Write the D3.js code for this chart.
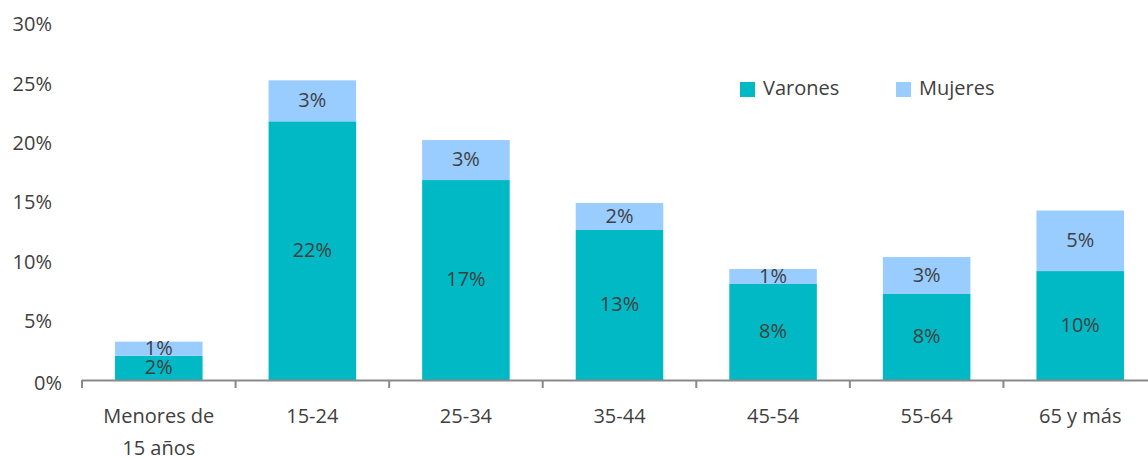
<!DOCTYPE html>
<html><head><meta charset="utf-8">
<script src="https://cdn.jsdelivr.net/npm/d3@7"></script>
<style>body{margin:0;background:#fff}svg{display:block}text{font-family:"Open Sans",sans-serif;fill:#404040}</style>
</head><body><svg id="c" width="1148" height="460"></svg>
<script>
const categories = ["Menores de\n15 años","15-24","25-34","35-44","45-54","55-64","65 y más"];
const varones = [2.05, 21.8, 16.85, 12.64, 8.09, 7.25, 9.18];
const mujeres = [1.18, 3.45, 3.37, 2.27, 1.26, 3.11, 5.1];
const varonesLabels = ["2%","22%","17%","13%","8%","8%","10%"];
const mujeresLabels = ["1%","3%","3%","2%","1%","3%","5%"];
const yTicks = [0,5,10,15,20,25,30];
const seriesNames = ["Varones","Mujeres"];
const colors = ["#00B9C5","#99CCFF"];

const svg = d3.select("#c");
const y = d3.scaleLinear().domain([0,30]).range([380,24]);
const x = d3.scaleBand().domain(categories).range([82,1157]).paddingInner(0.43).paddingOuter(0.215);
const step = x.step();

// y tick labels
svg.append("g").selectAll("text").data(yTicks).join("text")
  .attr("x", d => d===0 ? 62 : 52)
  .attr("y", d => y(d) + (d===0 ? 5 : 2))
  .attr("text-anchor","end").attr("dominant-baseline","middle")
  .attr("font-size",20).text(d => d + "%");

// bars
const rows = categories.map((c,i)=>({c, v:varones[i], m:mujeres[i], vl:varonesLabels[i], ml:mujeresLabels[i]}));
const g = svg.append("g");
g.selectAll("rect.v").data(rows).join("rect").attr("class","v")
  .attr("x",d=>x(d.c)).attr("width",x.bandwidth())
  .attr("y",d=>y(d.v)).attr("height",d=>y(0)-y(d.v)).attr("fill",colors[0]);
g.selectAll("rect.m").data(rows).join("rect").attr("class","m")
  .attr("x",d=>x(d.c)).attr("width",x.bandwidth())
  .attr("y",d=>y(d.v+d.m)).attr("height",d=>y(d.v)-y(d.v+d.m)).attr("fill",colors[1]);
g.selectAll("text.vl").data(rows).join("text").attr("class","vl")
  .attr("x",d=>x(d.c)+x.bandwidth()/2).attr("y",d=>(y(0)+y(d.v))/2+1)
  .attr("text-anchor","middle").attr("dominant-baseline","middle").attr("font-size",20).text(d=>d.vl);
g.selectAll("text.ml").data(rows).join("text").attr("class","ml")
  .attr("x",d=>x(d.c)+x.bandwidth()/2).attr("y",d=>(y(d.v)+y(d.v+d.m))/2+1)
  .attr("text-anchor","middle").attr("dominant-baseline","middle").attr("font-size",20).text(d=>d.ml);

// axis
const ax = svg.append("g");
ax.append("line").attr("x1",82).attr("x2",1157).attr("y1",380.5).attr("y2",380.5).attr("stroke","#898989").attr("stroke-width",2);
ax.selectAll("line.t").data(d3.range(categories.length+1)).join("line").attr("class","t")
  .attr("x1",i=>82+i*step).attr("x2",i=>82+i*step).attr("y1",380).attr("y2",388)
  .attr("stroke","#898989").attr("stroke-width",2);
ax.selectAll("text").data(categories).join("text")
  .attr("x",d=>x(d)+x.bandwidth()/2).attr("y",418).attr("text-anchor","middle")
  .attr("dominant-baseline","middle").attr("font-size",20)
  .each(function(d){
    const lines = d.split("\n");
    d3.select(this).selectAll("tspan").data(lines).join("tspan")
      .attr("x",x(d)+x.bandwidth()/2).attr("dy",(l,i)=>i===0?0:32).text(l=>l);
  });

// legend
const lg = svg.append("g");
const lx = [740, 896];
seriesNames.forEach((n,i)=>{
  lg.append("rect").attr("x",lx[i]).attr("y",82).attr("width",15).attr("height",15).attr("fill",colors[i]);
  lg.append("text").attr("x",lx[i]+23).attr("y",90).attr("dominant-baseline","middle").attr("font-size",20).text(n);
});
</script></body></html>
